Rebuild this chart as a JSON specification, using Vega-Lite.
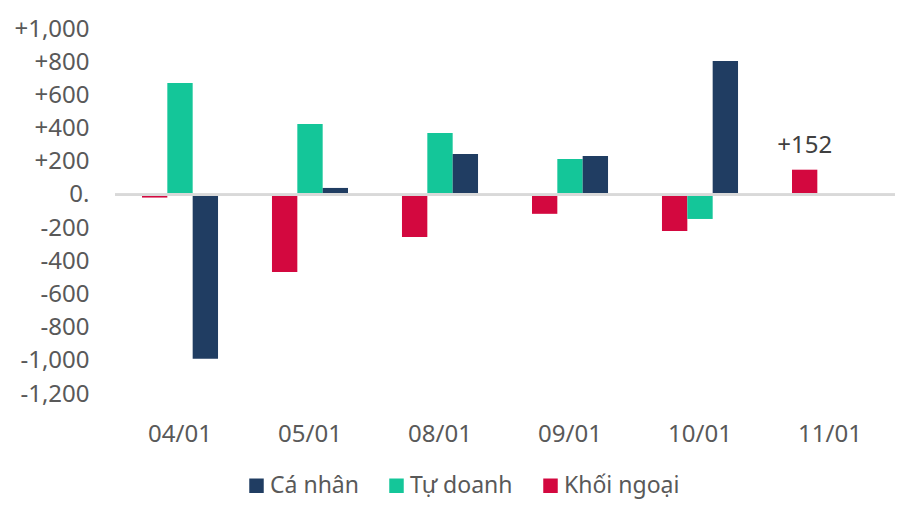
{
  "$schema": "https://vega.github.io/schema/vega-lite/v6.json",
  "width": 780,
  "height": 365,
  "autosize": "none",
  "padding": {"left": 115, "top": 29, "right": 25, "bottom": 128},
  "background": "#ffffff",
  "config": {
    "view": {"stroke": null},
    "font": "Noto Sans",
    "axis": {"labelFont": "Noto Sans", "labelFontSize": 24, "labelColor": "#595959"},
    "legend": {"labelFont": "Noto Sans", "labelFontSize": 23, "labelColor": "#595959"}
  },
  "data": {
    "values": [
      {"date": "04/01", "group": "Khối ngoại", "value": -16},
      {"date": "04/01", "group": "Tự doanh", "value": 675},
      {"date": "04/01", "group": "Cá nhân", "value": -988},
      {"date": "05/01", "group": "Khối ngoại", "value": -464},
      {"date": "05/01", "group": "Tự doanh", "value": 428},
      {"date": "05/01", "group": "Cá nhân", "value": 42},
      {"date": "08/01", "group": "Khối ngoại", "value": -253},
      {"date": "08/01", "group": "Tự doanh", "value": 373},
      {"date": "08/01", "group": "Cá nhân", "value": 247},
      {"date": "09/01", "group": "Khối ngoại", "value": -114},
      {"date": "09/01", "group": "Tự doanh", "value": 217},
      {"date": "09/01", "group": "Cá nhân", "value": 235},
      {"date": "10/01", "group": "Khối ngoại", "value": -217},
      {"date": "10/01", "group": "Tự doanh", "value": -145},
      {"date": "10/01", "group": "Cá nhân", "value": 807},
      {"date": "11/01", "group": "Khối ngoại", "value": 152, "label": "+152"}
    ]
  },
  "encoding": {
    "x": {
      "field": "date",
      "type": "nominal",
      "sort": null,
      "title": null,
      "scale": {"paddingInner": 0.415, "paddingOuter": 0.2075},
      "axis": {"domain": false, "ticks": false, "labelAngle": 0, "labelPadding": 28}
    },
    "xOffset": {
      "field": "group",
      "type": "nominal",
      "sort": ["Khối ngoại", "Tự doanh", "Cá nhân"]
    },
    "y": {
      "field": "value",
      "type": "quantitative",
      "title": null,
      "scale": {"domain": [-1200, 1000], "nice": false, "zero": true},
      "axis": {
        "values": [-1200, -1000, -800, -600, -400, -200, 0, 200, 400, 600, 800, 1000],
        "labelExpr": "datum.value > 0 ? '+' + format(datum.value, ',') : (datum.value == 0 ? '0.' : '-' + format(abs(datum.value), ','))",
        "domain": false,
        "ticks": false,
        "grid": false,
        "labelPadding": 26
      }
    }
  },
  "layer": [
    {
      "mark": {"type": "bar"},
      "encoding": {
        "color": {
          "field": "group",
          "type": "nominal",
          "scale": {
            "domain": ["Cá nhân", "Tự doanh", "Khối ngoại"],
            "range": ["#203d62", "#14c699", "#d3083f"]
          },
          "legend": {
            "title": null,
            "orient": "none",
            "direction": "horizontal",
            "legendX": 130,
            "legendY": 445,
            "symbolType": "square",
            "symbolSize": 210,
            "symbolStrokeWidth": 0,
            "labelOffset": 2,
            "columnPadding": 26
          }
        }
      }
    },
    {
      "mark": {"type": "rule", "color": "#d9d9d9", "strokeWidth": 2.25},
      "encoding": {"y": {"datum": 0}, "x": null, "xOffset": null}
    },
    {
      "transform": [{"filter": "datum.label != null"}],
      "mark": {"type": "text", "baseline": "alphabetic", "dy": -17, "fontSize": 24, "color": "#404040"},
      "encoding": {"text": {"field": "label"}}
    }
  ]
}
